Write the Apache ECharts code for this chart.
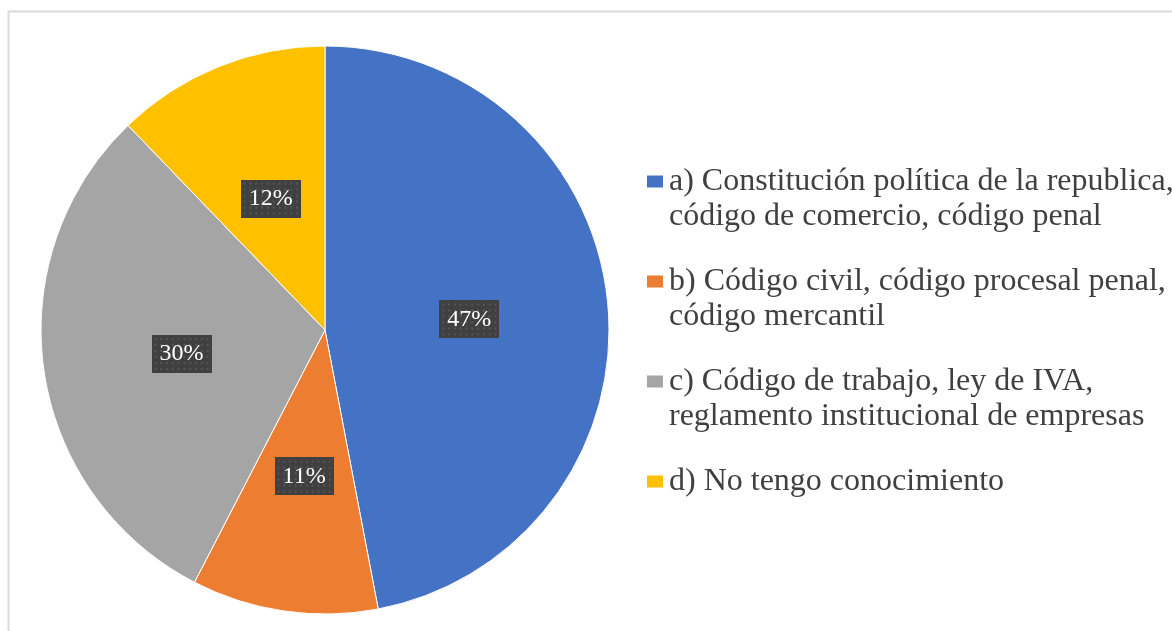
<!DOCTYPE html>
<html>
<head>
<meta charset="utf-8">
<script src="https://cdn.jsdelivr.net/npm/echarts@6/dist/echarts.min.js"></script>
<style>
  html, body { margin: 0; padding: 0; background: #fff; }
  #chart { width: 1172px; height: 631px; }
</style>
</head>
<body>
<div id="chart"></div>
<script>
// categories (legend names) and their wrapped legend lines
const categories = [
  "a) Constitución política de la republica, código de comercio, código penal",
  "b) Código civil, código procesal penal, código mercantil",
  "c) Código de trabajo, ley de IVA, reglamento institucional de empresas",
  "d) No tengo conocimiento"
];
const legendLines = [
  ["a) Constitución política de la republica,", "código de comercio, código penal"],
  ["b) Código civil, código procesal penal,", "código mercantil"],
  ["c) Código de trabajo, ley de IVA,", "reglamento institucional de empresas"],
  ["d) No tengo conocimiento", " "]
];
// slice shares (labels show them rounded)
const shares = [47, 10.6, 30.2, 12.2];
const colors = ["#4472C4", "#ED7D31", "#A5A5A5", "#FFC000"];

// dark dotted label background, like the office "pattern" fill
function dotPattern() {
  const c = document.createElement("canvas");
  c.width = 62; c.height = 38;
  const g = c.getContext("2d");
  g.fillStyle = "#404040";
  g.fillRect(0, 0, c.width, c.height);
  g.fillStyle = "#565656";
  for (let y = 3; y < c.height; y += 6) {
    for (let x = 3; x < c.width; x += 6) g.fillRect(x, y, 2, 2);
  }
  return c;
}

const chart = echarts.init(document.getElementById("chart"));
chart.setOption({
  animation: false,
  color: colors,
  graphic: [{
    type: "rect",
    left: 6, top: 9,
    shape: { width: 1180, height: 640 },
    style: { fill: "none", stroke: "#d9d9d9", lineWidth: 2 },
    silent: true
  }],
  legend: {
    orient: "vertical",
    left: 645,
    top: 129,
    padding: 0,
    itemGap: -5,
    itemWidth: 18,
    itemHeight: 14,
    icon: "rect",
    symbolKeepAspect: true,
    data: categories,
    formatter: name => {
      const l = legendLines[categories.indexOf(name)];
      // blank first line keeps the marker level with the first text line
      return "\n" + l[0] + "\n" + l[1];
    },
    textStyle: {
      fontFamily: "Liberation Serif",
      fontSize: 32,
      lineHeight: 35,
      color: "#404040"
    }
  },
  series: [{
    type: "pie",
    center: [325, 330],
    radius: 284,
    startAngle: 90,
    clockwise: true,
    itemStyle: { borderColor: "#ffffff", borderWidth: 1 },
    label: {
      position: "inside",
      formatter: p => Math.round(p.percent) + "%",
      offset: [0, 3],
      fontFamily: "Liberation Serif",
      fontSize: 24,
      lineHeight: 24,
      color: "#ffffff",
      backgroundColor: { image: dotPattern() },
      padding: [7, 8],
      shadowColor: "rgba(0,0,0,0.55)",
      shadowBlur: 6,
      shadowOffsetX: 3,
      shadowOffsetY: 3
    },
    labelLine: { show: false },
    emphasis: { disabled: true },
    data: categories.map((name, i) => ({ name, value: shares[i] }))
  }]
});
</script>
</body>
</html>
